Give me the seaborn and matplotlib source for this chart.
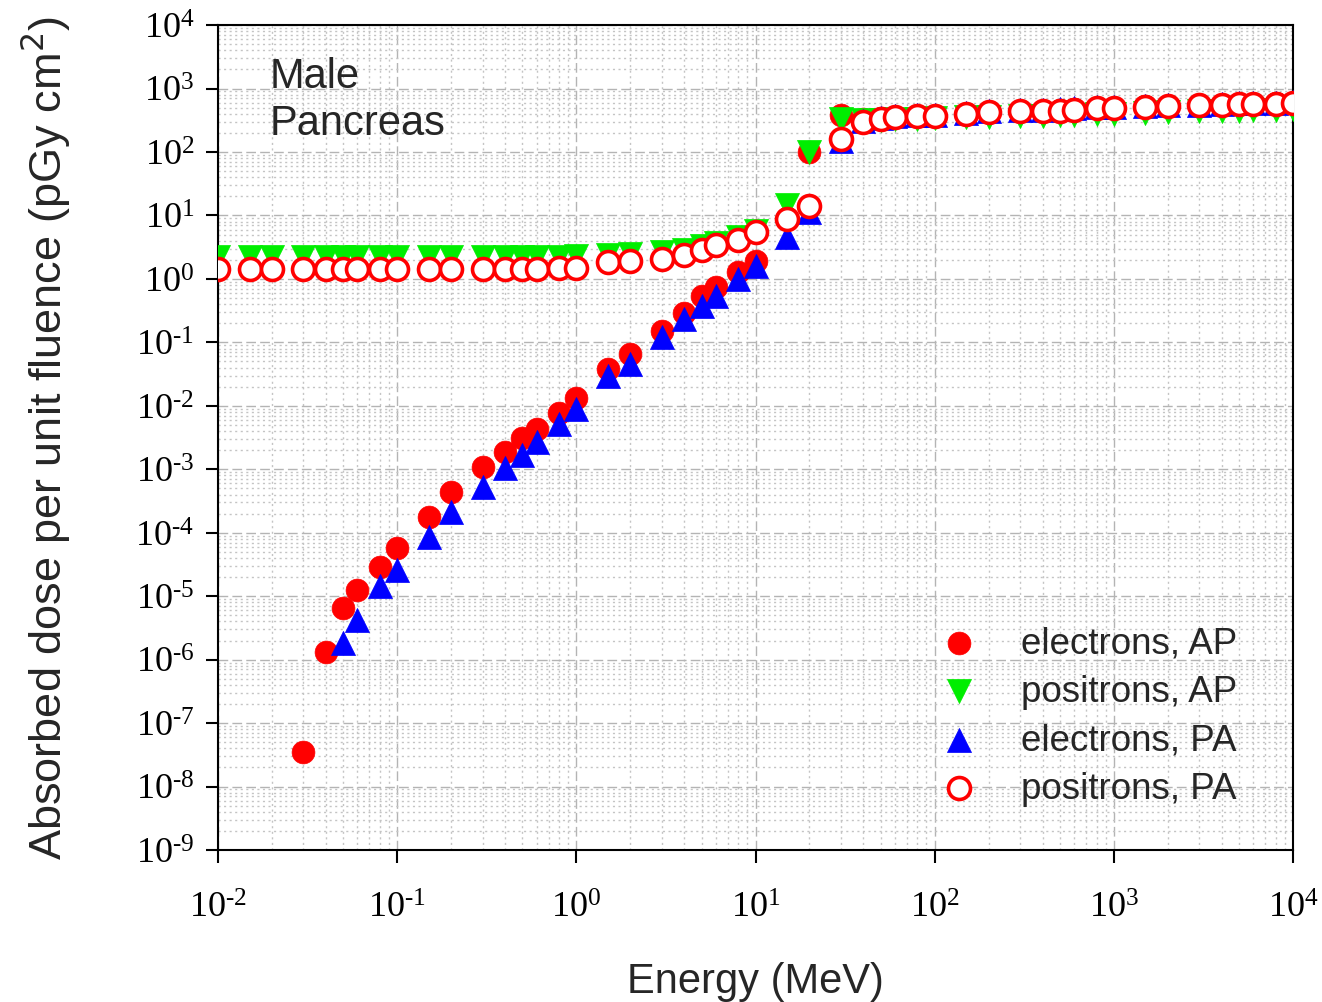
import numpy as np
import pandas as pd
import matplotlib
matplotlib.use("Agg")
import matplotlib.pyplot as plt
import matplotlib.ticker as mticker
import seaborn as sns

# Energy grid (MeV)
energy = [0.01, 0.015, 0.02, 0.03, 0.04, 0.05, 0.06, 0.08, 0.1, 0.15, 0.2,
          0.3, 0.4, 0.5, 0.6, 0.8, 1, 1.5, 2, 3, 4, 5, 6, 8, 10, 15, 20,
          30, 40, 50, 60, 80, 100, 150, 200, 300, 400, 500, 600, 800, 1000,
          1500, 2000, 3000, 4000, 5000, 6000, 8000, 10000]

nan = np.nan
# Absorbed dose per unit fluence (pGy cm^2)
electrons_ap = [nan, nan, nan, 3.5e-8, 1.3e-6, 6.5e-6, 1.25e-5, 2.9e-5, 5.8e-5,
                1.8e-4, 4.4e-4, 1.08e-3, 1.9e-3, 3.1e-3, 4.3e-3, 7.8e-3, 1.35e-2,
                3.8e-2, 6.6e-2, 0.15, 0.29, 0.53, 0.74, 1.27, 1.9, 9.0, 100,
                380, 330, 345, 360, 370, 375, 400, 430, 440, 450, 460, 470, 490,
                500, 525, 530, 545, 560, 570, 580, 585, 600]
positrons_ap = [2.2, 2.2, 2.2, 2.2, 2.2, 2.2, 2.2, 2.2, 2.2, 2.2, 2.2,
                2.2, 2.2, 2.2, 2.2, 2.25, 2.3, 2.35, 2.45, 2.65, 2.9, 3.3, 3.7,
                4.6, 5.6, 14.5, 100, 330, 320, 325, 330, 335, 340, 350, 360,
                370, 375, 380, 385, 395, 400, 415, 420, 435, 445, 450, 455, 460,
                470]
electrons_pa = [nan, nan, nan, nan, nan, 1.8e-6, 4.2e-6, 1.45e-5, 2.6e-5,
                8.5e-5, 2.1e-4, 5.3e-4, 1.05e-3, 1.7e-3, 2.7e-3, 5.1e-3, 9.0e-3,
                2.9e-2, 4.6e-2, 0.12, 0.23, 0.37, 0.54, 1.0, 1.6, 4.6, 11.5,
                150, 310, 340, 365, 380, 385, 410, 440, 455, 465, 475, 485, 505,
                515, 540, 545, 560, 575, 585, 595, 600, 615]
positrons_pa = [1.43, 1.43, 1.43, 1.43, 1.43, 1.43, 1.43, 1.43, 1.43, 1.43, 1.43,
                1.43, 1.43, 1.44, 1.45, 1.47, 1.5, 1.84, 1.9, 2.05, 2.38, 2.85,
                3.42, 4.1, 5.5, 8.8, 14, 160, 296, 330, 355, 368, 370, 400, 430,
                442, 445, 450, 460, 490, 495, 520, 526, 545, 560, 565, 575, 570,
                600]

series_names = ["electrons, AP", "positrons, AP", "electrons, PA", "positrons, PA"]

df = pd.DataFrame({
    "energy": energy * 4,
    "dose": electrons_ap + positrons_ap + electrons_pa + positrons_pa,
    "series": [s for s in series_names for _ in energy],
}).dropna()

sns.set_style("ticks")
plt.rcParams["font.family"] = ["Liberation Sans", "DejaVu Sans"]

fig = plt.figure(figsize=(13.22, 10.03), dpi=100)
ax = fig.add_axes([0.1649, 0.1515, 0.8132, 0.8225])

styles = {
    "electrons, AP": dict(marker="o", color="#ff0000", edgecolor="#ff0000", s=270, linewidth=0.5),
    "positrons, AP": dict(marker="v", color="#00ee00", edgecolor="#00ee00", s=300, linewidth=0.5),
    "electrons, PA": dict(marker="^", color="#0000ff", edgecolor="#0000ff", s=300, linewidth=0.5),
    "positrons, PA": dict(marker="o", color="white", edgecolor="#ff0000", s=250, linewidth=2.6),
}

for name in series_names:
    sub = df[df["series"] == name]
    sns.scatterplot(data=sub, x="energy", y="dose", ax=ax, label=name,
                    zorder=3, **styles[name])

ax.set_xscale("log")
ax.set_yscale("log")
ax.set_xlim(1e-2, 1e4)
ax.set_ylim(1e-9, 1e4)


def decade_label(v, pos):
    n = int(round(np.log10(v)))
    exp = str(n).replace("-", "\u2010")
    return r"$\mathregular{10^{%s}}$" % exp


ax.xaxis.set_major_locator(mticker.LogLocator(base=10, numticks=20))
ax.yaxis.set_major_locator(mticker.LogLocator(base=10, numticks=30))
ax.xaxis.set_major_formatter(mticker.FuncFormatter(decade_label))
ax.yaxis.set_major_formatter(mticker.FuncFormatter(decade_label))
ax.xaxis.set_minor_locator(mticker.LogLocator(base=10, subs=np.arange(2, 10), numticks=100))
ax.yaxis.set_minor_locator(mticker.LogLocator(base=10, subs=np.arange(2, 10), numticks=100))
ax.xaxis.set_minor_formatter(mticker.NullFormatter())
ax.yaxis.set_minor_formatter(mticker.NullFormatter())

ax.grid(which="major", color="#b4b4b4", linestyle=(0, (7, 3)), linewidth=1.0, zorder=0)
ax.grid(which="minor", color="#c4c4c4", linestyle=(0, (1.5, 2.5)), linewidth=1.0, zorder=0)
ax.set_axisbelow(True)

ax.tick_params(which="major", direction="out", length=9, width=1.5, colors="black",
               labelsize=26, pad=8)
ax.tick_params(which="minor", length=0)
ax.tick_params(axis="x", pad=21)
for lbl in ax.get_xticklabels() + ax.get_yticklabels():
    lbl.set_fontfamily("Liberation Serif")

for sp in ax.spines.values():
    sp.set_linewidth(1.5)
    sp.set_color("black")

ax.set_xlabel("Energy (MeV)", fontsize=30, labelpad=26)
ax.set_ylabel("Absorbed dose per unit fluence (pGy cm$^2$)", fontsize=32.5, labelpad=45)

ax.text(0.048, 0.962, "Male\nPancreas", transform=ax.transAxes, fontsize=30,
        va="top", ha="left", linespacing=1.22)

leg = ax.legend(loc="lower right", frameon=False, fontsize=26.5, markerscale=1.0,
                handletextpad=0.7, labelspacing=0.36, borderaxespad=0.0,
                bbox_to_anchor=(0.962, 0.036))

fig.savefig("out.png", dpi=100)
